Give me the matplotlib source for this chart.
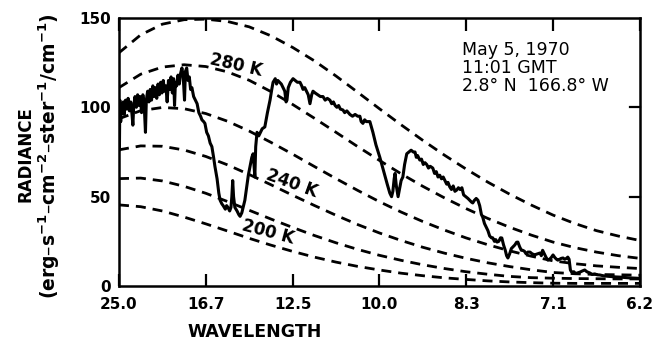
import numpy as np
import matplotlib
matplotlib.use("Agg")
import matplotlib.pyplot as plt

plt.rcParams['font.family'] = ['DejaVu Sans']
plt.rcParams['mathtext.fontset'] = 'dejavusans'
plt.rcParams['mathtext.default'] = 'bf'

# x axis is linear in wavenumber (cm-1), labelled in wavelength (micron)
tick_wavenumbers = [400, 600, 800, 1000, 1200, 1400, 1600]
tick_labels = ["25.0", "16.7", "12.5", "10.0", "8.3", "7.1", "6.2"]

# blackbody reference curves, read at 50 cm-1 steps
bb_wavenumber = [400, 450, 500, 550, 600, 650, 700, 750, 800, 850, 900, 950, 1000,
                 1050, 1100, 1150, 1200, 1250, 1300, 1350, 1400, 1450, 1500, 1550, 1600]
bb_300 = [130.5, 140.5, 146.5, 149.0, 149.3, 148.0, 145.0, 140.0, 133.5, 126.0, 117.5, 108.4, 99.2,
          90.2, 81.5, 73.2, 65.4, 58.1, 51.4, 45.3, 39.7, 35.0, 31.0, 28.0, 25.5]
bb_280 = [111.0, 118.5, 122.5, 123.8, 122.8, 119.8, 115.1, 108.8, 101.6, 93.9, 86.0, 78.0, 70.3,
          62.8, 55.8, 49.3, 43.3, 37.8, 32.9, 28.5, 24.6, 21.5, 19.0, 17.0, 15.5]
bb_260 = [93.6, 98.1, 99.9, 99.2, 96.5, 92.2, 86.7, 80.4, 73.8, 66.9, 60.1, 53.5, 47.2,
          41.4, 36.1, 31.3, 26.9, 23.1, 19.7, 16.7, 14.1, 12.5, 11.3, 10.5, 9.8]
bb_240 = [76.2, 78.4, 78.2, 76.1, 72.5, 67.8, 62.4, 56.7, 50.8, 45.1, 39.6, 34.4, 29.7,
          25.5, 21.7, 18.4, 15.5, 13.0, 10.9, 9.1, 7.6, 6.9, 6.5, 6.3, 6.1]
bb_220 = [60.1, 60.4, 58.8, 55.8, 51.9, 47.3, 42.4, 37.5, 32.8, 28.3, 24.2, 20.5, 17.2,
          14.4, 11.9, 9.8, 8.0, 6.6, 5.4, 4.7, 4.4, 4.2, 4.1, 4.0, 4.0]
bb_200 = [45.4, 44.4, 42.0, 38.6, 34.8, 30.8, 26.7, 22.9, 19.4, 16.2, 13.4, 11.0, 9.0,
          7.2, 5.8, 4.6, 3.7, 2.9, 2.3, 1.9, 1.6, 1.5, 1.5, 1.5, 1.5]

spec_wavenumber = [
    400, 401, 402, 404, 406, 408, 410, 412, 415, 418, 421, 424, 427, 430, 432, 434, 437, 440,
    443, 446, 449, 452, 455, 458, 461, 463, 466, 469, 472, 475, 478, 481, 484, 487, 490, 493,
    496, 499, 502, 505, 508, 511, 514, 517, 520, 523, 526, 528, 530, 533, 536, 539, 542, 545,
    548, 551, 553, 556, 559, 562, 565, 568, 572, 576, 580, 584, 588, 591, 595, 598, 602, 606,
    610, 614, 618, 621, 626, 630, 633, 637, 640, 645, 648, 651, 655, 658, 660, 662, 664, 667,
    672, 676, 679, 683, 687, 690, 694, 698, 702, 706, 709, 711, 713, 715, 718, 722, 726, 730,
    736, 742, 748, 752, 755, 760, 763, 766, 770, 774, 778, 782, 785, 787, 790, 795, 801, 806,
    811, 817, 821, 824, 828, 832, 836, 840, 844, 847, 852, 858, 864, 870, 875, 880, 886, 890,
    894, 898, 902, 906, 910, 916, 920, 925, 932, 938, 944, 950, 955, 958, 962, 966, 970, 978,
    985, 992, 1001, 1010, 1018, 1024, 1028, 1031, 1034, 1036, 1039, 1043, 1047, 1050, 1054, 1058,
    1063, 1068, 1073, 1078, 1082, 1085, 1088, 1093, 1097, 1101, 1105, 1109, 1113, 1117, 1123, 1127,
    1131, 1135, 1139, 1143, 1147, 1151, 1155, 1158, 1162, 1166, 1170, 1174, 1178, 1182, 1186, 1190,
    1194, 1199, 1204, 1208, 1212, 1215, 1219, 1223, 1227, 1231, 1235, 1238, 1242, 1246, 1250, 1254,
    1258, 1261, 1265, 1268, 1271, 1275, 1279, 1282, 1286, 1290, 1293, 1296, 1300, 1304, 1308, 1312,
    1316, 1319, 1323, 1327, 1330, 1334, 1338, 1342, 1347, 1352, 1358, 1364, 1370, 1373, 1376, 1380,
    1384, 1388, 1392, 1396, 1400, 1404, 1408, 1411, 1415, 1419, 1423, 1427, 1431, 1434, 1437, 1440,
    1443, 1448, 1452, 1458, 1462, 1468, 1473, 1478, 1485, 1490, 1496, 1502, 1508, 1515, 1525, 1535,
    1545, 1555, 1565, 1575, 1585, 1600]
spec_radiance = [
    100, 76, 104, 92, 102, 97, 103, 96, 104, 99, 105, 98, 103, 96, 90, 101, 106, 100,
    107, 101, 106, 97, 107, 102, 86, 104, 109, 103, 110, 104, 112, 106, 111, 105, 113, 107,
    114, 108, 115, 109, 112, 103, 115, 110, 117, 108, 116, 101, 114, 112, 118, 113, 119, 122,
    117, 104, 120, 122, 115, 117, 110, 111, 106, 104, 102, 97, 95, 93, 92, 91, 86, 84,
    80, 78, 72, 67, 60, 52, 48, 46, 45, 43, 45, 44, 42, 44, 50, 59, 50, 44,
    42, 40, 39, 41, 45, 48, 55, 62, 67, 72, 74, 68, 61, 78, 86, 84, 86, 88,
    89, 97, 104, 110, 114, 116, 113, 115, 114, 113, 111, 109, 103, 104, 111, 114, 116, 115,
    114, 114, 112, 110, 111, 109, 107, 102, 107, 109, 108, 107, 106, 106, 104, 105, 104, 102,
    103, 101, 100, 101, 99, 98.5, 97, 98, 96, 95, 96, 95, 95, 92, 91, 93, 92, 92,
    86, 79, 72, 64, 57, 52, 50, 53, 60, 63, 56, 50, 55, 59, 61, 68,
    74, 75, 76, 75, 75, 72, 73, 70.5, 71, 68, 69, 68, 66, 67, 66, 63,
    64, 61, 62, 60, 61, 59, 57, 58, 55.5, 54, 56, 53, 53.7, 55, 54, 55,
    51, 50, 49, 48, 47, 46.5, 48, 49, 48, 45, 40, 38.6, 35, 33, 31, 28,
    27, 27, 25, 26, 24.6, 25, 27, 26.9, 23, 20, 17, 15.7, 18, 21, 22, 23,
    24.5, 24.6, 22, 20, 20, 19.5, 18, 19, 19, 18, 17.5, 18, 18.5, 17, 20, 18,
    16, 14.5, 15, 16, 17.4, 16, 15, 14.5, 15, 15.5, 15.7, 15, 15.5, 16.2, 15, 9,
    7.8, 8, 7, 7.5, 7.8, 8.5, 9, 8, 7.3, 6.5, 6.8, 6.3, 6.2, 5.8, 5.5, 5.3,
    5.1, 5.0, 4.8, 4.6, 4.5, 4.3]

fig = plt.figure(figsize=(6.61, 3.51), dpi=100)
ax = fig.add_axes([0.180, 0.185, 0.788, 0.764])

for curve in [bb_300, bb_280, bb_260, bb_240, bb_220, bb_200]:
    ax.plot(bb_wavenumber, curve, color='black', lw=2.0, linestyle=(0, (3.6, 2.5)),
            dash_capstyle='butt')

ax.plot(spec_wavenumber, spec_radiance, color='black', lw=2.2, solid_joinstyle='round')

ax.set_xlim(400, 1600)
ax.set_ylim(0, 150)
ax.set_xticks(tick_wavenumbers)
ax.set_xticklabels(tick_labels, fontweight='bold', fontsize=11)
ax.set_yticks([0, 50, 100, 150])
ax.set_yticklabels(["0", "50", "100", "150"], fontweight='bold', fontsize=11)
ax.tick_params(axis='x', direction='in', length=9, width=1.6, top=True, pad=8)
ax.tick_params(axis='y', direction='in', length=0, width=1.6, right=False, pad=6)
for side in ax.spines.values():
    side.set_linewidth(1.8)
for yv in [50, 100]:
    ax.plot([1600, 1577], [yv, yv], color='black', lw=1.6, clip_on=False)

ax.text(669, 123.5, "280 K", fontsize=12, fontweight='bold', rotation=-13,
        ha='center', va='center')
ax.text(798, 57.5, "240 K", fontsize=12, fontweight='bold', rotation=-20,
        ha='center', va='center')
ax.text(743, 30, "200 K", fontsize=12, fontweight='bold', rotation=-15,
        ha='center', va='center')

ax.text(1190, 137, "May 5, 1970\n11:01 GMT\n2.8\u00b0 N  166.8\u00b0 W", fontsize=12.5,
        ha='left', va='top', linespacing=1.0)

fig.text(0.385, 0.055, "WAVELENGTH", fontsize=12.5, fontweight='bold', ha='center', va='center')
fig.text(0.038, 0.56, "RADIANCE", fontsize=12, fontweight='bold', rotation=90,
         ha='center', va='center')
fig.text(0.074, 0.555, "(erg\u2013s$^{-1}$\u2013cm$^{-2}$\u2013ster$^{-1}$/cm$^{-1}$)",
         fontsize=13.5, fontweight='bold', rotation=90, ha='center', va='center')

fig.savefig("out.png", dpi=100)
